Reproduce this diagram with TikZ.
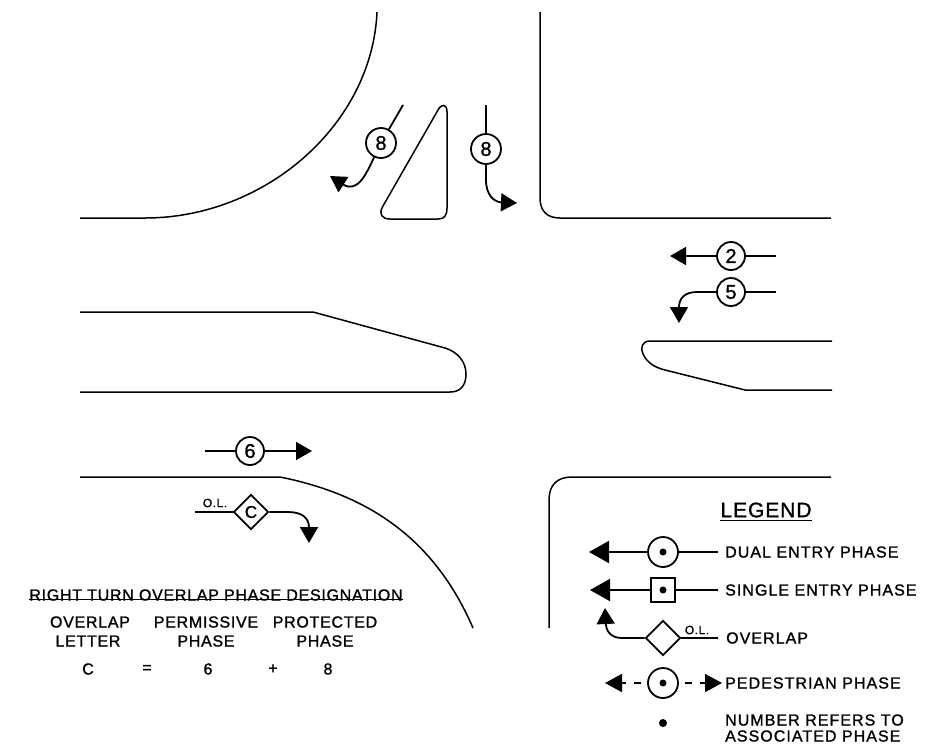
\documentclass[tikz,border=0pt]{standalone}
\usepackage{fontspec}
\usetikzlibrary{arrows.meta,shapes.geometric}
\newfontfamily\cadfont[LetterSpace=4.5,FakeBold=1.2]{Liberation Sans}
\newfontfamily\legfont[LetterSpace=6.5,FakeBold=1.2]{Liberation Sans}
\tikzset{
  x=1pt,y=-1pt,
  curb/.style={draw=black,line width=1.5pt,line join=round},
  conn/.style={draw=black,line width=1.8pt},
  arr/.style={conn,-{Triangle[length=20pt,width=22pt]}},
  sarr/.style={conn,-{Triangle[length=16pt,width=18pt]}},
  parr/.style={draw=black,line width=1.8pt,dash pattern=on 0pt off 6pt on 7pt off 8pt on 100pt,-{Triangle[length=17pt,width=18pt]}},
  phase/.style={circle,draw=black,line width=1.8pt,minimum size=30pt,inner sep=0pt,font=\cadfont\fontsize{20}{20}\selectfont},
  square phase/.style={rectangle,draw=black,line width=1.8pt,minimum size=24pt,inner sep=0pt},
  olap/.style={diamond,draw=black,line width=1.8pt,minimum size=35pt,inner sep=0pt,font=\cadfont\fontsize{17}{17}\selectfont},
  dot/.style={circle,fill=black,minimum size=7pt,inner sep=0pt},
  lab/.style={inner sep=0pt,font=\cadfont\fontsize{16}{16}\selectfont,text=black},
  leglab/.style={inner sep=0pt,font=\legfont\fontsize{16}{16}\selectfont,text=black,anchor=west},
  small/.style={inner sep=0pt,font=\cadfont\fontsize{12}{12}\selectfont,text=black},
}
\begin{document}
\begin{tikzpicture}
\useasboundingbox (0,0) rectangle (931,748);
% streets
\path[curb] (377,12) .. controls (372,125) and (265,218) .. (145,218) -- (80,218);
\path[curb] (540,12) -- (540,198) .. controls (540,211) and (547,218) .. (560,218) -- (831,218);
\path[curb] (438,110) .. controls (441,104) and (447,103) .. (447,112) -- (447,208)
   .. controls (447,216) and (444,219) .. (438,219) -- (390,219)
   .. controls (382,219) and (378,214) .. (383,206) -- cycle;
\path[curb] (80,312) -- (313,312) -- (445,348) .. controls (458,352) and (466,362) .. (466,374)
   .. controls (466,386) and (460,392) .. (450,392) -- (80,392);
\path[curb] (832,341) -- (650,341) .. controls (642,341) and (640,348) .. (643,354)
   .. controls (647,362) and (653,367) .. (665,370) -- (745,390) -- (832,390);
\path[curb] (80,477) -- (280,477) .. controls (370,495) and (435,540) .. (473,628);
\path[curb] (549,628) -- (549,500) .. controls (549,485) and (557,477) .. (572,477) -- (831,477);
% phases
\node[phase] (pa) at (381,143) {8};
\coordinate (paT) at (403,105);
\coordinate (paH) at (330,176);
\draw[conn] (pa) -- (paT);
\draw[sarr] (pa) .. controls (367,172) and (358,194) .. (paH);
\node[phase] (pb) at (486,149) {8};
\coordinate (pbT) at (486,105);
\coordinate (pbH) at (517,203);
\draw[conn] (pb) -- (pbT);
\draw[sarr] (pb) -- (486,180) .. controls (486,195) and (494,202) .. (pbH);
\node[phase,minimum size=28pt] (pc) at (731,256) {2};
\coordinate (pcR) at (776,256);
\coordinate (pcH) at (670,256);
\draw[conn] (pc) -- (pcR);
\draw[sarr] (pc) -- (pcH);
\node[phase,minimum size=28pt] (pd) at (731,292) {5};
\coordinate (pdR) at (776,292);
\coordinate (pdH) at (679,323);
\draw[conn] (pd) -- (pdR);
\draw[sarr] (pd) -- (697,292) .. controls (685,292) and (679,298) .. (pdH);
\node[phase,minimum size=28pt] (pe) at (250,451) {6};
\coordinate (peL) at (205,451);
\coordinate (peH) at (312,451);
\draw[conn] (pe) -- (peL);
\draw[sarr] (pe) -- (peH);
\node[olap] (ol) at (251,512) {C};
\coordinate (olL) at (195,512);
\coordinate (olH) at (309,543);
\draw[conn] (ol) -- (olL);
\draw[sarr] (ol) -- (288,512) .. controls (302,512) and (309,518) .. (olH);
\node[small] (olt) at (215,503) {O.L.};
% table
\node[lab] (tt) at (216,595) {RIGHT TURN OVERLAP PHASE DESIGNATION};
\draw[conn,line width=1.2pt] ([yshift=1pt]tt.base west) -- ([yshift=1pt]tt.base east);
\node[lab] (h1) at (90,622) {OVERLAP};
\node[lab] (h2) at (88,641) {LETTER};
\node[lab] (h3) at (206,622) {PERMISSIVE};
\node[lab] (h4) at (206,641) {PHASE};
\node[lab] (h5) at (325,622) {PROTECTED};
\node[lab] (h6) at (325,641) {PHASE};
\node[lab] (v1) at (88,669) {C};
\node[lab] (v2) at (147,669) {=};
\node[lab] (v3) at (208,669) {6};
\node[lab] (v4) at (273,669) {+};
\node[lab] (v5) at (328,669) {8};
% legend
\node[lab,font=\cadfont\fontsize{21}{21}\selectfont] (lg) at (766,510) {LEGEND};
\draw[conn,line width=1.5pt] ([yshift=-3pt]lg.south west) -- ([yshift=-3pt]lg.south east);
\node[phase] (l1) at (663,552) {};
\node[dot] (l1d) at (663,552) {};
\coordinate (l1H) at (589,552);
\coordinate (l1R) at (718,552);
\draw[conn] (l1) -- (l1R);
\draw[arr] (l1) -- (l1H);
\node[leglab] (l1t) at (725,552) {DUAL ENTRY PHASE};
\node[square phase] (l2) at (663,590) {};
\node[dot] (l2d) at (663,590) {};
\coordinate (l2H) at (590,590);
\coordinate (l2R) at (718,590);
\draw[conn] (l2) -- (l2R);
\draw[arr] (l2) -- (l2H);
\node[leglab] (l2t) at (725,590) {SINGLE ENTRY PHASE};
\node[olap] (l3) at (663,638) {};
\coordinate (l3H) at (605,608);
\coordinate (l3R) at (718,638);
\draw[conn] (l3) -- (l3R);
\draw[sarr] (l3) -- (622,638) .. controls (610,638) and (606,630) .. (l3H);
\node[small] (l3o) at (697,630) {O.L.};
\node[leglab] (l3t) at (726,638) {OVERLAP};
\node[phase] (l4) at (663,683) {};
\node[dot] (l4d) at (663,683) {};
\coordinate (l4L) at (605,683);
\coordinate (l4R) at (722,683);
\draw[parr] (l4) -- (l4L);
\draw[parr] (l4) -- (l4R);
\node[leglab] (l4t) at (725,683) {PEDESTRIAN PHASE};
\node[dot,minimum size=8pt] (l5) at (663,723) {};
\node[leglab] (l5a) at (725,720) {NUMBER REFERS TO};
\node[leglab] (l5b) at (725,736) {ASSOCIATED PHASE};
\end{tikzpicture}
\end{document}
